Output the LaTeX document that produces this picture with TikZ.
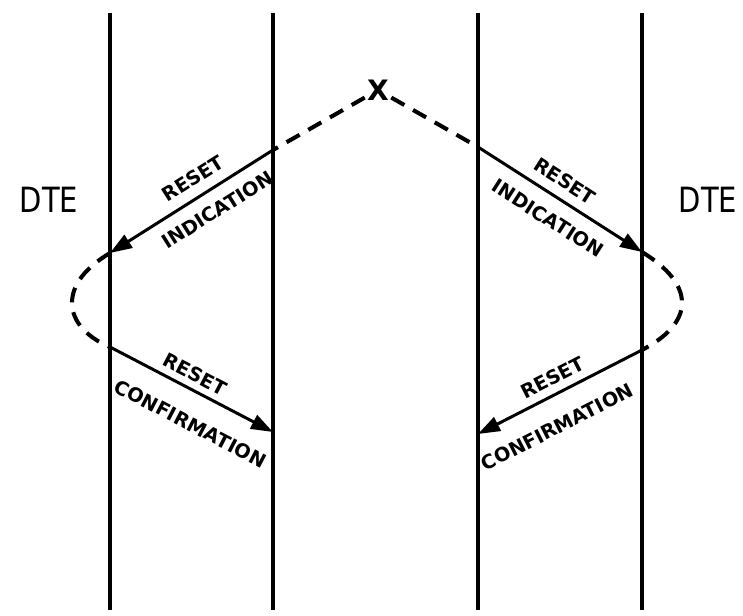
\documentclass[tikz,border=0pt]{standalone}
\usepackage{fontspec}
\setmainfont{DejaVu Sans}
\usetikzlibrary{arrows.meta}
\begin{document}
\begin{tikzpicture}[x=0.02cm, y=-0.02cm, thick]
    \tikzstyle{life}=[line width=2.4pt]
    \tikzstyle{marrs}=[line width=1.7pt, -{Triangle[length=0.44cm, width=0.3cm]}]
    \tikzstyle{dsh}=[line width=2.3pt, dash pattern=on 0.3cm off 0.2cm]
    \tikzstyle{lbl}=[font=\bfseries\fontsize{11}{12}\selectfont, inner sep=0pt, sloped]
    \tikzstyle{dte}=[font=\fontsize{16.5}{17}\selectfont]

    \useasboundingbox (0, 0) rectangle (743, 615);

    % the four lifelines
    \foreach \x/\n in {110/a, 273/b, 478/c, 642/d} {
        \coordinate (\n top) at (\x, 13);
        \coordinate (\n bot) at (\x, 610);
        \draw[life] (\n top) -- (\n bot);
    }

    \coordinate (indL) at (273, 150);
    \coordinate (indLe) at (110, 253);
    \coordinate (cnfL) at (110, 347);
    \coordinate (cnfLe) at (273, 432);
    \coordinate (indR) at (478, 147);
    \coordinate (indRe) at (642, 252);
    \coordinate (cnfR) at (642, 350);
    \coordinate (cnfRe) at (478, 434);
    \coordinate (loopL) at (72, 303);
    \coordinate (loopR) at (682, 303);

    \node[font=\bfseries\fontsize{16}{16}\selectfont, inner sep=1pt] (cross) at (378, 90) {X};
    \node[dte] (dteL) at (49, 200) {\scalebox{1}[1.2]{DTE}};
    \node[dte] (dteR) at (708, 200) {\scalebox{1}[1.2]{DTE}};

    % dashed parts
    \draw[dsh] (cross) -- (indL);
    \draw[dsh] (cross) -- (indR);
    \draw[dsh] (indLe) .. controls (85, 268) and (72, 285) .. (loopL) .. controls (72, 322) and (88, 338) .. (cnfL);
    \draw[dsh] (indRe) .. controls (668, 268) and (682, 285) .. (loopR) .. controls (682, 322) and (665, 338) .. (cnfR);

    % messages
    \draw[marrs] (indL) -- (indLe)
        node[lbl, pos=0.43, above=0.2cm] {RESET}
        node[lbl, pos=0.41, below=0.24cm] {INDICATION};
    \draw[marrs] (indR) -- (indRe)
        node[lbl, pos=0.47, above=0.19cm] {RESET}
        node[lbl, pos=0.5, below=0.27cm] {INDICATION};
    \draw[marrs] (cnfL) -- (cnfLe)
        node[lbl, pos=0.48, above=0.13cm] {RESET}
        node[lbl, pos=0.58, below=0.44cm] {CONFIRMATION};
    \draw[marrs] (cnfR) -- (cnfRe)
        node[lbl, pos=0.5, above=0.15cm] {RESET}
        node[lbl, pos=0.6, below=0.42cm] {CONFIRMATION};
\end{tikzpicture}
\end{document}
